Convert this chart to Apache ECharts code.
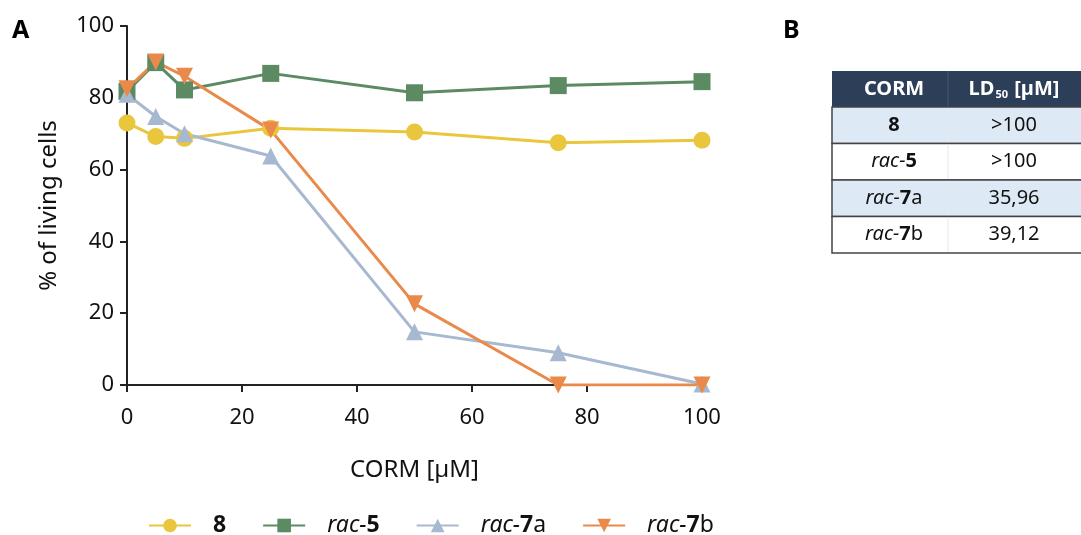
<!DOCTYPE html>
<html>
<head>
<meta charset="utf-8">
<script src="https://cdn.jsdelivr.net/npm/echarts@6/dist/echarts.min.js"></script>
<style>
    html, body { margin: 0; padding: 0; background: #fff; }
    #chart { width: 1081px; height: 535px; }
</style>
</head>
<body>
<div id="chart"></div>
<script>
// CORM concentration [µM]
const conc = [0, 5, 10, 25, 50, 75, 100]

// % of living cells
const cmp8 = [73, 69.2, 68.7, 71.5, 70.5, 67.5, 68.2]
const rac5 = [81.8, 89.8, 82.2, 86.8, 81.4, 83.4, 84.5]
const rac7a = [81, 74.8, 70, 63.8, 14.8, 9, 0.3]
const rac7b = [82.5, 90, 86, 71, 22.6, 0, 0]

// table B
const tableNames = ['{b|8}', '{i|rac-}{b|5}', '{i|rac-}{b|7}{n|a}', '{i|rac-}{b|7}{n|b}']
const tableLd50 = ['>100', '>100', '35,96', '39,12']

const FONT = '"Noto Sans", sans-serif'
const colors = ['#e9c63c', '#5b8a63', '#a7b9d0', '#e98a4b']

function mkSeries(name, data, symbol, rotate) {
    return {
        name: name,
        type: 'line',
        data: conc.map(function (c, i) { return [c, data[i]] }),
        symbol: symbol,
        symbolSize: 17,
        symbolRotate: rotate || 0,
        clip: false,
        lineStyle: { width: 3 }
    }
}

let chart = echarts.init(document.getElementById('chart'))

// table graphics
let tx = 832, tw = 252, col = 116, headH = 36, rowH = 36.5, ty = 71
let gfx = []
gfx.push({ type: 'rect', shape: { x: tx, y: ty, width: tw, height: headH }, style: { fill: '#2c3e58' } })
gfx.push({ type: 'line', shape: { x1: tx + col, y1: ty, x2: tx + col, y2: ty + headH }, style: { stroke: '#46566e', lineWidth: 1 } })
gfx.push({ type: 'text', x: tx + col / 2 + 4, y: ty + headH / 2, style: { text: 'CORM', fill: '#fff', font: 'bold 20px ' + FONT, align: 'center', verticalAlign: 'middle' } })
gfx.push({ type: 'text', x: tx + col + (tw - col) / 2 - 2, y: ty + headH / 2, style: {
    text: '{h|LD}{s|50}{h| [µM]}', align: 'center', verticalAlign: 'middle',
    rich: {
        h: { fill: '#fff', font: 'bold 20px ' + FONT },
        s: { fill: '#fff', font: 'bold 11px ' + FONT, padding: [12, 1, 0, 1] }
    }
} })
tableNames.forEach(function (nm, i) {
    let y = ty + headH + i * rowH
    gfx.push({ type: 'rect', shape: { x: tx, y: y, width: tw, height: rowH },
        style: { fill: i % 2 === 0 ? '#dde9f4' : '#ffffff', stroke: '#444', lineWidth: 1.5 } })
    gfx.push({ type: 'line', shape: { x1: tx + col, y1: y + 1, x2: tx + col, y2: y + rowH - 1 }, style: { stroke: '#e4e8ee', lineWidth: 1 } })
    gfx.push({ type: 'text', x: tx + col / 2 + 4, y: y + rowH / 2, style: {
        text: nm, align: 'center', verticalAlign: 'middle',
        rich: {
            b: { fill: '#111', font: 'bold 20px ' + FONT },
            i: { fill: '#111', font: 'italic 20px ' + FONT },
            n: { fill: '#111', font: '20px ' + FONT }
        }
    } })
    gfx.push({ type: 'text', x: tx + col + (tw - col) / 2 - 2, y: y + rowH / 2, style: {
        text: tableLd50[i], fill: '#111', font: '20px ' + FONT, align: 'center', verticalAlign: 'middle' } })
})
gfx.push({ type: 'text', x: 12, y: 18, style: { text: 'A', fill: '#000', font: 'bold 25px ' + FONT } })
gfx.push({ type: 'text', x: 783, y: 18, style: { text: 'B', fill: '#000', font: 'bold 25px ' + FONT } })

const legendNames = {
    '8': '{g|}{b|8}',
    'rac-5': '{g|}{i|rac-}{b|5}',
    'rac-7a': '{g|}{i|rac-}{b|7}{n|a}',
    'rac-7b': '{g|}{i|rac-}{b|7}{n|b}'
}

chart.setOption({
    color: colors,
    textStyle: { fontFamily: FONT },
    grid: { left: 127, right: 379, top: 26, bottom: 150 },
    legend: {
        left: 143,
        top: 509,
        itemWidth: 42,
        itemHeight: 17,
        itemGap: 36,
        formatter: function (name) { return legendNames[name] },
        textStyle: {
            rich: {
                g: { width: 17 },
                b: { fontFamily: FONT, fontSize: 23, fontWeight: 'bold', color: '#111' },
                i: { fontFamily: FONT, fontSize: 23, fontStyle: 'italic', color: '#111' },
                n: { fontFamily: FONT, fontSize: 23, color: '#111' }
            }
        }
    },
    xAxis: {
        type: 'value',
        min: 0,
        max: 100,
        interval: 20,
        name: 'CORM [µM]',
        nameLocation: 'middle',
        nameGap: 73,
        nameTextStyle: { fontSize: 24, color: '#111' },
        axisLine: { show: true, lineStyle: { color: '#222', width: 2 } },
        axisTick: { show: true, length: 7, lineStyle: { color: '#222', width: 2 } },
        axisLabel: { fontSize: 22, color: '#111', margin: 22 },
        splitLine: { show: false }
    },
    yAxis: {
        type: 'value',
        min: 0,
        max: 100,
        interval: 20,
        name: '% of living cells',
        nameLocation: 'middle',
        nameGap: 66,
        nameTextStyle: { fontSize: 24, color: '#111' },
        axisLine: { show: true, lineStyle: { color: '#222', width: 2 } },
        axisTick: { show: true, length: 7, lineStyle: { color: '#222', width: 2 } },
        axisLabel: { fontSize: 22, color: '#111', margin: 13 },
        splitLine: { show: false }
    },
    series: [
        mkSeries('8', cmp8, 'circle'),
        mkSeries('rac-5', rac5, 'rect'),
        mkSeries('rac-7a', rac7a, 'triangle'),
        mkSeries('rac-7b', rac7b, 'triangle', 180)
    ],
    graphic: gfx
})
</script>
</body>
</html>
